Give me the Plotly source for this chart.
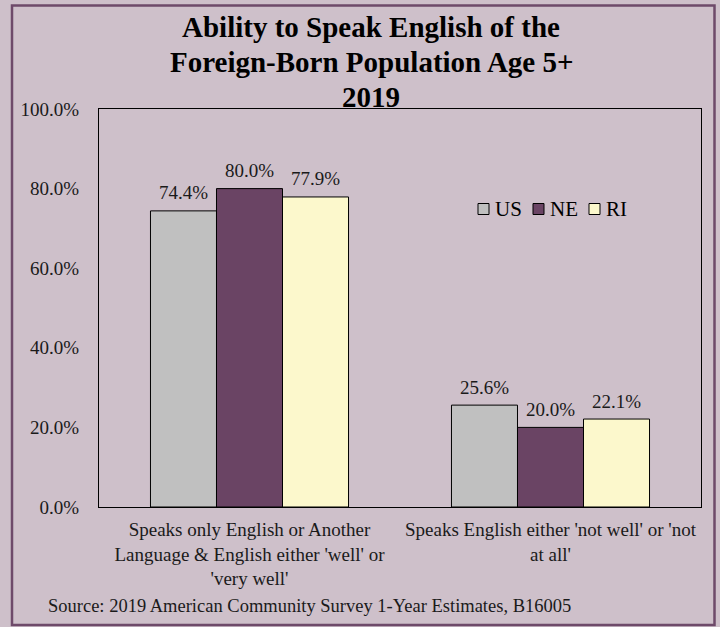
import plotly.graph_objects as go

# --- data -------------------------------------------------------------
categories = [
    "Speaks only English or Another<br>Language & English either 'well' or<br>'very well'",
    "Speaks English either 'not well' or 'not<br>at all'",
]
series_names = ["US", "NE", "RI"]
us_values = [74.4, 25.6]
ne_values = [80.0, 20.0]
ri_values = [77.9, 22.1]
series_values = [us_values, ne_values, ri_values]
series_colors = ["#C0C0C0", "#6A4464", "#FCF8CC"]
y_ticks = [0, 20, 40, 60, 80, 100]
y_tick_labels = ["0.0%", "20.0%", "40.0%", "60.0%", "80.0%", "100.0%"]

title_lines = [
    "Ability to Speak English of the",
    "Foreign-Born Population Age 5+",
    "2019",
]
source_text = "Source: 2019 American Community Survey 1-Year Estimates, B16005"

# --- layout constants (pixels) ------------------------------------------
W, H = 720, 627
PL, PR, PT, PB = 99, 701, 109, 507          # plot area edges
BG = "#CEC0CA"
FRAME = "#6E4A6A"
FONT = "'Liberation Serif', 'Times New Roman', 'DejaVu Serif', serif"
BARGAP = 0.342
N = len(series_names)


def px_x(px):
    return (px - PL) / (PR - PL)


def px_y(py):
    return (PB - py) / (PB - PT)


fig = go.Figure()
for name, vals, color in zip(series_names, series_values, series_colors):
    fig.add_trace(go.Bar(
        name=name,
        x=categories,
        y=vals,
        marker=dict(color=color, line=dict(color="#000000", width=1)),
        showlegend=False,
        hoverinfo="x+y+name",
    ))

annotations = []

# value labels above each bar
bar_w = (1 - BARGAP) / N
for j, vals in enumerate(series_values):
    offset = (j - (N - 1) / 2) * bar_w
    for i, v in enumerate(vals):
        annotations.append(dict(
            x=i + offset, y=v, xref="x", yref="y",
            text=f"{v:.1f}%", showarrow=False,
            yanchor="middle", yshift=18,
            font=dict(family=FONT, size=19, color="#1A1A1A"),
        ))

# title, one line per annotation
for k, (line, cy) in enumerate(zip(title_lines, [27, 62, 97])):
    annotations.append(dict(
        x=px_x(371), y=px_y(cy), xref="paper", yref="paper",
        text=f"<b>{line}</b>", showarrow=False,
        xanchor="center", yanchor="middle",
        font=dict(family=FONT, size=29, color="#000000"),
    ))

# source note
annotations.append(dict(
    x=px_x(46), y=px_y(606), xref="paper", yref="paper",
    text=source_text, showarrow=False,
    xanchor="left", yanchor="middle",
    font=dict(family=FONT, size=18.5, color="#1A1A1A"),
))

shapes = []
# legend: swatches + names
legend_swatch_x = [478, 533, 589]
legend_cy = 209
for name, color, sx in zip(series_names, series_colors, legend_swatch_x):
    shapes.append(dict(
        type="rect", xref="paper", yref="paper",
        x0=px_x(sx), x1=px_x(sx + 11),
        y0=px_y(legend_cy + 5.5), y1=px_y(legend_cy - 5.5),
        fillcolor=color, line=dict(color="#000000", width=1),
    ))
    annotations.append(dict(
        x=px_x(sx + 15), y=px_y(legend_cy), xref="paper", yref="paper",
        text=name, showarrow=False, xanchor="left", yanchor="middle",
        font=dict(family=FONT, size=21, color="#000000"),
    ))

# outer chart frame
shapes.append(dict(
    type="rect", xref="paper", yref="paper",
    x0=px_x(12), x1=px_x(714.5), y0=px_y(625), y1=px_y(5.5),
    line=dict(color=FRAME, width=2.5), fillcolor="rgba(0,0,0,0)",
    layer="above",
))

fig.update_layout(
    width=W, height=H,
    margin=dict(l=PL, r=W - PR, t=PT, b=H - PB, autoexpand=False),
    paper_bgcolor=BG, plot_bgcolor=BG,
    barmode="group", bargap=BARGAP, bargroupgap=0,
    font=dict(family=FONT, size=19, color="#1A1A1A"),
    annotations=annotations, shapes=shapes,
    showlegend=False,
)
fig.update_xaxes(
    showline=True, linecolor="#000000", linewidth=1, mirror=True,
    showgrid=False, ticks="", tickfont=dict(family=FONT, size=19, color="#1A1A1A"),
    ticklabelstandoff=5,
)
fig.update_yaxes(
    range=[0, 100], tickvals=y_ticks, ticktext=y_tick_labels,
    showline=True, linecolor="#000000", linewidth=1, mirror=True,
    showgrid=False, zeroline=False, ticks="",
    tickfont=dict(family=FONT, size=19, color="#1A1A1A"),
    ticklabelstandoff=15,
)

fig.write_html("out.html")
